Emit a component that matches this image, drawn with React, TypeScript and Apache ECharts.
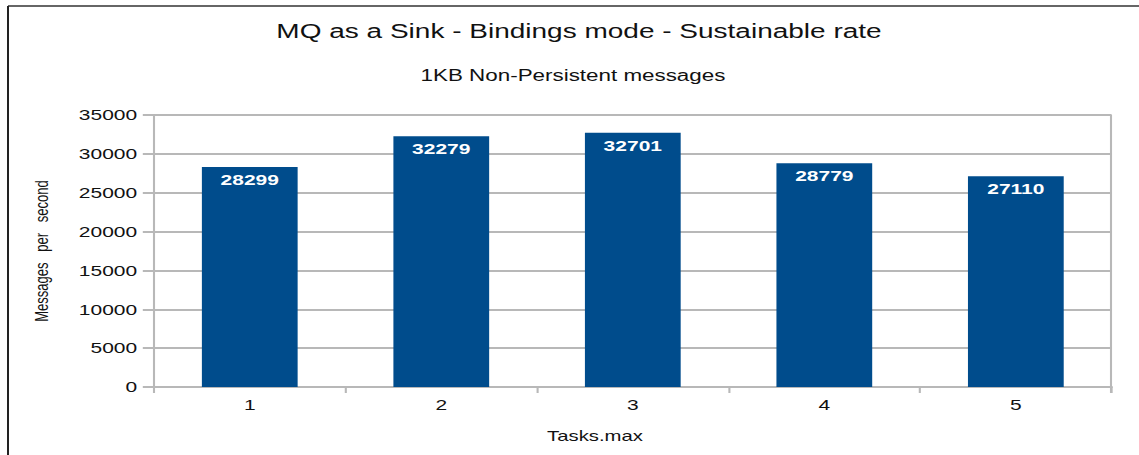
import React, { useEffect, useRef } from "react";
import * as echarts from "echarts";

const categories = ["1", "2", "3", "4", "5"];
const rates = [28299, 32279, 32701, 28779, 27110];
const yTicks = [0, 5000, 10000, 15000, 20000, 25000, 30000, 35000];

const FONT = "'Liberation Sans', Arial, sans-serif";

// The chart is laid out on a narrower canvas and widened horizontally,
// which gives the broad, stretched lettering of the original export.
const STRETCH = 1.4;
const OUTER_W = 1139;
const OUTER_H = 455;
const INNER_W = OUTER_W / STRETCH;
const px = (x: number) => x / STRETCH;

export default function App() {
  const ref = useRef<HTMLDivElement>(null);

  useEffect(() => {
    if (!ref.current) return;
    const chart = echarts.init(ref.current, null, { renderer: "svg" });
    const gridLeft = px(154);
    const gridRight = px(28);
    chart.setOption({
      animation: false,
      backgroundColor: "#ffffff",
      title: [
        {
          text: "MQ as a Sink - Bindings mode - Sustainable rate",
          left: px(572),
          top: 16,
          textAlign: "center",
          textStyle: { fontFamily: FONT, fontSize: 20, fontWeight: "normal", color: "#111" },
        },
        {
          text: "1KB Non-Persistent messages",
          left: px(566),
          top: 62,
          textAlign: "center",
          textStyle: { fontFamily: FONT, fontSize: 16, fontWeight: "normal", color: "#111" },
        },
      ],
      grid: { left: gridLeft, right: gridRight, top: 115, bottom: 68, containLabel: false },
      xAxis: {
        type: "category",
        data: categories,
        name: "Tasks.max",
        nameLocation: "middle",
        nameGap: 42,
        nameTextStyle: {
          fontFamily: FONT,
          fontSize: 14.5,
          color: "#111",
          // nudges the axis title left of the plot's centre line
          padding: [0, 54, 0, 0],
        },
        axisLine: { lineStyle: { color: "#b8b8b8", width: 2 } },
        axisTick: { show: true, length: 6, lineStyle: { color: "#b8b8b8", width: 1.5 } },
        axisLabel: { fontFamily: FONT, fontSize: 15, color: "#111", margin: 10 },
      },
      yAxis: {
        type: "value",
        min: yTicks[0],
        max: yTicks[yTicks.length - 1],
        interval: yTicks[1] - yTicks[0],
        name: "Messages\u00a0\u00a0\u00a0per\u00a0\u00a0\u00a0second",
        nameLocation: "middle",
        nameGap: 74,
        nameRotate: 90,
        nameTextStyle: { fontFamily: FONT, fontSize: 13, color: "#111" },
        axisLine: { show: true, lineStyle: { color: "#b8b8b8", width: 1.5 } },
        axisTick: { show: true, length: 8, lineStyle: { color: "#b8b8b8", width: 2 } },
        axisLabel: {
          fontFamily: FONT,
          fontSize: 15,
          color: "#111",
          margin: 12,
          formatter: (v: number) => String(v),
        },
        splitLine: { show: true, lineStyle: { color: "#b8b8b8", width: 2 } },
      },
      series: [
        {
          type: "bar",
          data: rates,
          barWidth: "50%",
          itemStyle: { color: "#004c8c" },
          label: {
            show: true,
            position: "insideTop",
            distance: 5,
            color: "#ffffff",
            fontFamily: FONT,
            fontWeight: "bold",
            fontSize: 15,
          },
        },
      ],
      graphic: [
        {
          type: "line",
          shape: { x1: INNER_W - gridRight, y1: 115, x2: INNER_W - gridRight, y2: 393 },
          style: { stroke: "#b8b8b8", lineWidth: 1.5 },
        },
        {
          type: "line",
          shape: { x1: px(8), y1: 6, x2: INNER_W, y2: 6 },
          style: { stroke: "#666666", lineWidth: 2 },
        },
        {
          type: "line",
          shape: { x1: px(8), y1: 6, x2: px(8), y2: OUTER_H },
          style: { stroke: "#222222", lineWidth: 2 / STRETCH },
        },
      ],
    });
    return () => chart.dispose();
  }, []);

  return (
    <div
      ref={ref}
      style={{
        position: "fixed",
        left: 0,
        top: 0,
        width: INNER_W,
        height: OUTER_H,
        background: "#fff",
        transform: `scaleX(${STRETCH})`,
        transformOrigin: "0 0",
      }}
    />
  );
}
